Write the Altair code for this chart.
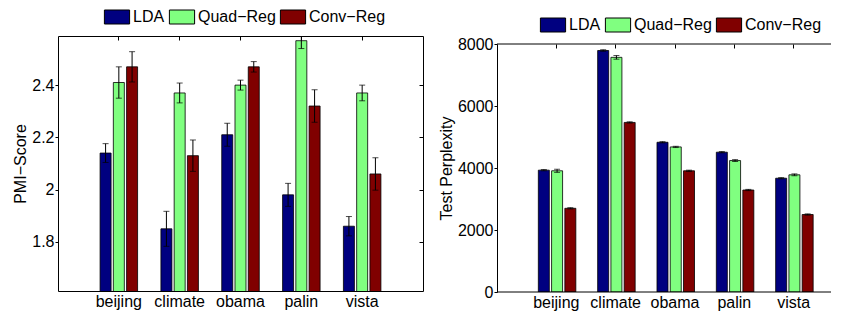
import altair as alt
import pandas as pd

categories = ["beijing", "climate", "obama", "palin", "vista"]
series = ["LDA", "Quad−Reg", "Conv−Reg"]
colors = ["#000080", "#80ff80", "#800000"]

# PMI-Score panel
pmi_lda = [2.14, 1.85, 2.21, 1.98, 1.86]
pmi_quad = [2.41, 2.37, 2.40, 2.57, 2.37]
pmi_conv = [2.47, 2.13, 2.47, 2.32, 2.06]
pmi_err_lda = [0.036, 0.067, 0.044, 0.044, 0.037]
pmi_err_quad = [0.060, 0.038, 0.019, 0.030, 0.030]
pmi_err_conv = [0.058, 0.060, 0.020, 0.062, 0.062]
pmi_ticks = [1.8, 2.0, 2.2, 2.4]

# Test Perplexity panel
ppl_lda = [3930, 7790, 4830, 4510, 3670]
ppl_quad = [3910, 7570, 4680, 4240, 3780]
ppl_conv = [2700, 5470, 3910, 3290, 2500]
ppl_err_lda = [20, 25, 20, 20, 20]
ppl_err_quad = [50, 60, 20, 30, 30]
ppl_err_conv = [20, 20, 20, 20, 20]
ppl_ticks = [0, 2000, 4000, 6000, 8000]

FONT = "Liberation Sans"


def frame(vals, errs):
    rows = []
    for s, vl, el in zip(series, vals, errs):
        for c, v, e in zip(categories, vl, el):
            rows.append({"category": c, "series": s, "value": v, "lo": v - e, "hi": v + e})
    return pd.DataFrame(rows)


def legend(lx, ly):
    return alt.Legend(title=None, orient="none", legendX=lx, legendY=ly,
                      direction="horizontal", symbolType="M-1.8,-1H1.8V1H-1.8Z",
                      symbolSize=196, symbolStrokeColor="black", symbolStrokeWidth=1,
                      symbolOpacity=1, labelFontSize=16, labelColor="black",
                      labelOffset=8, columnPadding=2, padding=0)


def panel(df, ytitle, domain, ticks, fmt, xscale, yscale, lx, ly, left_domain,
          top_offset, right_axis):
    base = alt.Chart(df)
    xoff = alt.XOffset("series:N", sort=series,
                       scale=alt.Scale(paddingInner=0.17, paddingOuter=0.88))

    bars = base.mark_bar(stroke="black", strokeWidth=0.8, clip=True).encode(
        x=alt.X("category:N", sort=categories, scale=xscale,
                axis=alt.Axis(title=None, labelAngle=0, tickSize=0, domain=False,
                              labelPadding=2, labelFontSize=16, labelColor="black")),
        xOffset=xoff,
        y=alt.Y("value:Q", scale=yscale,
                axis=alt.Axis(values=ticks, format=fmt, title=ytitle, tickSize=3,
                              tickColor="black", domain=left_domain, domainColor="black",
                              labelPadding=1, labelFontSize=16, labelColor="black",
                              titleFontSize=16, titleFontWeight="normal",
                              titleColor="black", titlePadding=3, grid=False)),
        color=alt.Color("series:N", sort=series,
                        scale=alt.Scale(domain=series, range=colors),
                        legend=legend(lx, ly)),
    )
    rule_y_axis = alt.Axis(orient="right", offset=-4, tickSize=4, labels=False,
                           domain=False, title=None, values=ticks, tickColor="black",
                           grid=False) if right_axis else None
    rules = base.mark_rule(color="black", strokeWidth=1, clip=True).encode(
        x=alt.X("category:N", sort=categories, scale=xscale,
                axis=alt.Axis(orient="top", offset=top_offset, tickSize=4, labels=False,
                              domain=False, title=None, tickColor="black", grid=False)),
        xOffset=xoff,
        y=alt.Y("lo:Q", scale=yscale, axis=rule_y_axis),
        y2="hi:Q",
    )
    lo_caps = base.mark_tick(color="black", size=6, thickness=1, clip=True,
                             orient="horizontal").encode(
        x=alt.X("category:N", sort=categories, scale=xscale, axis=None),
        xOffset=xoff,
        y=alt.Y("lo:Q", scale=yscale, axis=None),
    )
    hi_caps = base.mark_tick(color="black", size=6, thickness=1, clip=True,
                             orient="horizontal").encode(
        x=alt.X("category:N", sort=categories, scale=xscale, axis=None),
        xOffset=xoff,
        y=alt.Y("hi:Q", scale=yscale, axis=None),
    )
    return [bars, rules, lo_caps, hi_caps]


# left panel: plot box drawn by the view stroke
L_W, L_H = 365, 255
left_layers = panel(
    frame([pmi_lda, pmi_quad, pmi_conv], [pmi_err_lda, pmi_err_quad, pmi_err_conv]),
    "PMI−Score", [1.612, 2.588], pmi_ticks, "~g",
    alt.Scale(paddingInner=0, paddingOuter=0.5),
    alt.Scale(domain=[1.612, 2.588], zero=False, nice=False),
    51, -27, False, -4, True)
left = alt.layer(*left_layers).resolve_axis(x="independent", y="independent").properties(
    width=L_W, height=L_H)

# right panel: its box runs past the right edge of the page, so the visible part
# is narrower than the full box; the band scale keeps the full box's spacing
R_W, R_H, R_TOP = 334, 256, 8
R_STEP = 356 / 6.0
R_PO = (R_W / R_STEP - 5) / 2
R_ALIGN = (R_STEP / 2) / (R_W - 5 * R_STEP)
right_layers = panel(
    frame([ppl_lda, ppl_quad, ppl_conv], [ppl_err_lda, ppl_err_quad, ppl_err_conv]),
    "Test Perplexity", [0, 8000], ppl_ticks, "d",
    alt.Scale(paddingInner=0, paddingOuter=R_PO, align=R_ALIGN),
    alt.Scale(domain=[0, 8000], zero=False, nice=False, range=[R_H, R_TOP]),
    48, -19, True, -(R_TOP + 4), False)
one = alt.Chart(pd.DataFrame({"k": [0]}))
top_border = one.mark_rule(color="black", strokeWidth=1).encode(
    x=alt.value(0), x2=alt.value(R_W), y=alt.value(R_TOP))
bottom_border = one.mark_rule(color="black", strokeWidth=1).encode(
    x=alt.value(0), x2=alt.value(R_W), y=alt.value(R_H))
right = alt.layer(*right_layers, top_border, bottom_border).resolve_axis(
    x="independent", y="independent").properties(
    width=R_W, height=R_H, view=alt.ViewBackground(stroke="transparent"))

chart = alt.hconcat(left, right, spacing=13).resolve_legend(color="independent").properties(
    padding={"left": 4, "top": 0, "right": 0, "bottom": 0}
).configure(
    font=FONT
).configure_view(
    stroke="black", strokeWidth=1
).configure_axis(
    labelFont=FONT, titleFont=FONT
).configure_legend(labelFont=FONT)

chart.save("out.html", embed_options={"renderer": "svg", "actions": False})
